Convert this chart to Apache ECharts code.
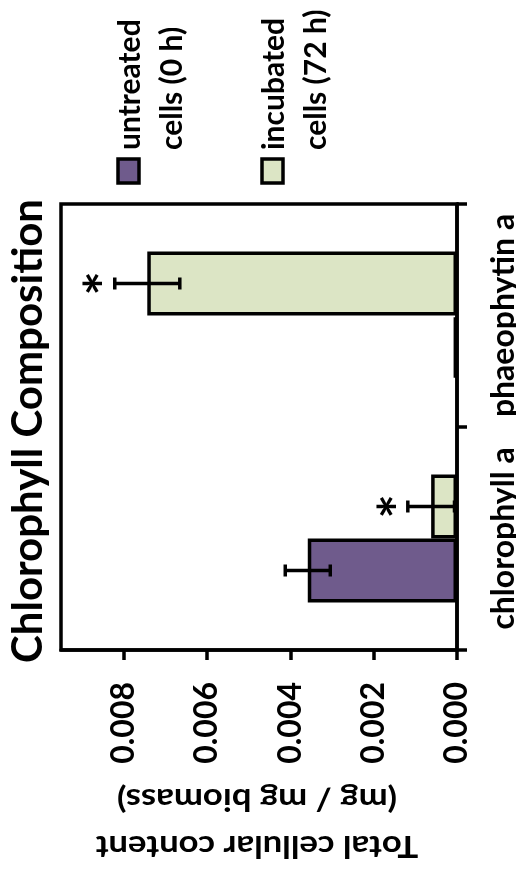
<!DOCTYPE html>
<html>
<head>
<meta charset="utf-8">
<script src="https://cdn.jsdelivr.net/npm/echarts@6/dist/echarts.min.js"></script>
<style>
html,body{margin:0;padding:0;background:#fff;}
#chart{width:516px;height:878px;}
</style>
</head>
<body>
<div id="chart"></div>
<script>
// ---- data ----
const categories = ['chlorophyll a', 'phaeophytin a'];
const seriesNames = ['untreated\ncells (0 h)', 'incubated\ncells (72 h)'];
const untreated = [0.00358, 0.00008];
const untreatedErr = [0.00054, 0];
const untreatedSig = [false, false];
const incubated = [0.00062, 0.00743];
const incubatedErr = [0.00056, 0.00078];
const incubatedSig = [true, true];
const valueTicks = [0, 0.002, 0.004, 0.006, 0.008];
const valueMax = 0.0095;
const titleText = 'Chlorophyll Composition';
const axisTitleLines = ['Total cellular content', '(mg / mg biomass)'];

const PURPLE = '#6f5b8c';
const GREEN = '#dce5c5';
const FONT = 'Lato';
const BAR_FRAC = 0.287;   // bar thickness as fraction of the category band

const chart = echarts.init(document.getElementById('chart'));

const errData = [];
[[untreated, untreatedErr, untreatedSig, 0], [incubated, incubatedErr, incubatedSig, 1]].forEach(([vals, errs, sigs, slot]) => {
  vals.forEach((v, i) => errData.push([v, i, errs[i], slot, sigs[i] ? 1 : 0]));
});

function renderErr(params, api) {
  const v = api.value(0), c = api.value(1), e = api.value(2), slot = api.value(3), sig = api.value(4);
  const center = api.coord([v, c]);
  const band = api.size([0, 1])[1];
  const bw = band * BAR_FRAC;
  const y = center[1] + (slot === 0 ? bw / 2 : -bw / 2);
  const children = [];
  const style = { stroke: '#000', lineWidth: 3.5 };
  let xEnd = center[0];
  if (e > 0) {
    const x1 = api.coord([v - e, c])[0];
    const x2 = api.coord([v + e, c])[0];
    xEnd = Math.min(x1, x2);
    children.push({ type: 'line', shape: { x1: x1, y1: y, x2: x2, y2: y }, style: style });
    children.push({ type: 'line', shape: { x1: x1, y1: y - 6, x2: x1, y2: y + 6 }, style: style });
    children.push({ type: 'line', shape: { x1: x2, y1: y - 6, x2: x2, y2: y + 6 }, style: style });
  }
  if (sig) {
    children.push({
      type: 'text', x: xEnd - 7, y: y, rotation: Math.PI / 2,
      style: { text: '*', fill: '#000', font: 'bold 58px ' + FONT, align: 'center', verticalAlign: 'middle' }
    });
  }
  return { type: 'group', children: children };
}

function legendItem(x, color, name) {
  const lines = name.split('\n');
  const f = 'bold 30px ' + FONT;
  return [
    { type: 'rect', shape: { x: x - 10, y: 159, width: 21, height: 24 }, style: { fill: color, stroke: '#000', lineWidth: 3.5 } },
    { type: 'text', x: x + 2, y: 150, rotation: Math.PI / 2, style: { text: lines[0], font: f, fill: '#000', align: 'left', verticalAlign: 'middle' } },
    { type: 'text', x: x + 44, y: 150, rotation: Math.PI / 2, style: { text: lines[1], font: f, fill: '#000', align: 'left', verticalAlign: 'middle' } }
  ];
}

const barStyle = { borderColor: '#000', borderWidth: 3.5 };

const option = {
  backgroundColor: '#fff',
  animation: false,
  grid: { left: 61, top: 204, width: 396, height: 446, containLabel: false, outerBoundsMode: 'none',
          show: true, borderColor: '#000', borderWidth: 3.5, backgroundColor: 'transparent' },
  xAxis: {
    type: 'value', inverse: true, min: 0, max: valueMax, position: 'bottom',
    splitLine: { show: false },
    axisLine: { show: true, lineStyle: { color: '#000', width: 3.5 } },
    axisTick: { show: true, customValues: valueTicks, length: 10, lineStyle: { color: '#000', width: 3.5 } },
    axisLabel: { customValues: valueTicks, formatter: v => v.toFixed(3), rotate: 90, margin: 32, color: '#000', fontFamily: FONT, fontWeight: 'bold', fontSize: 32 }
  },
  yAxis: {
    type: 'category', data: categories, position: 'right',
    axisLine: { show: true, lineStyle: { color: '#000', width: 3.5 } },
    axisTick: { show: true, length: 10, lineStyle: { color: '#000', width: 3.5 } },
    axisLabel: { interval: 0, rotate: 90, margin: 31, color: '#000', fontFamily: FONT, fontWeight: 'bold', fontSize: 32 }
  },
  series: [
    // incubated listed first so that, in this horizontal layout, it sits above the untreated bar
    { type: 'bar', name: seriesNames[1], data: incubated, barGap: '0%', barWidth: (BAR_FRAC * 100) + '%',
      itemStyle: Object.assign({ color: GREEN }, barStyle) },
    { type: 'bar', name: seriesNames[0], data: untreated, barGap: '0%', barWidth: (BAR_FRAC * 100) + '%',
      itemStyle: Object.assign({ color: PURPLE }, barStyle) },
    { type: 'custom', name: 'error', data: errData, encode: { x: 0, y: 1 }, renderItem: renderErr, z: 10, clip: false }
  ],
  graphic: [
    { type: 'text', x: 28, y: 431, rotation: Math.PI / 2, style: { text: titleText, font: 'bold 42px ' + FONT, fill: '#000', align: 'center', verticalAlign: 'middle' } },
    { type: 'text', x: 257, y: 846, rotation: Math.PI, scaleX: 1.12, style: { text: axisTitleLines[0], font: 'bold 31px ' + FONT, fill: '#000', align: 'center', verticalAlign: 'middle' } },
    { type: 'text', x: 257, y: 799, rotation: Math.PI, scaleX: 1.12, style: { text: axisTitleLines[1], font: 'bold 31px ' + FONT, fill: '#000', align: 'center', verticalAlign: 'middle' } }
  ].concat(legendItem(128, PURPLE, seriesNames[0])).concat(legendItem(272, GREEN, seriesNames[1]))
};
chart.setOption(option);
</script>
</body>
</html>
